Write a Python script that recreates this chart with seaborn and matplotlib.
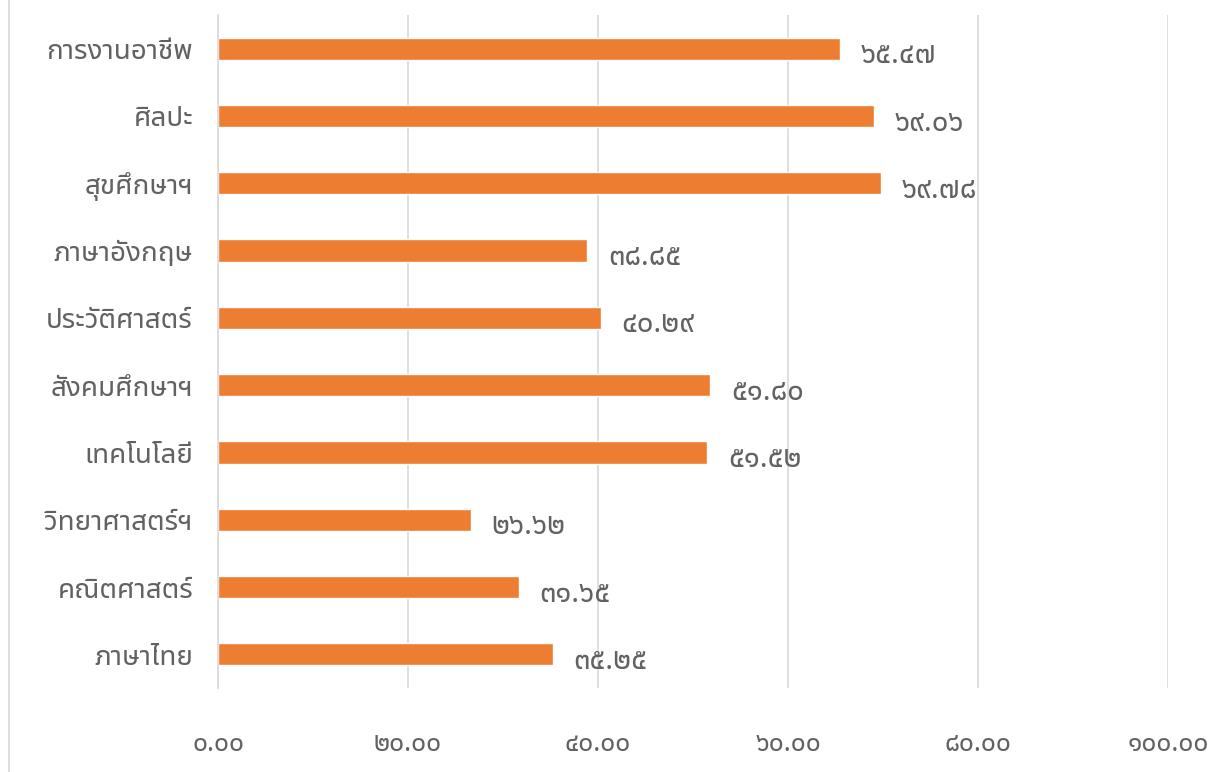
import matplotlib
matplotlib.use('Agg')
import matplotlib.pyplot as plt
from matplotlib.ticker import FuncFormatter
import seaborn as sns
import pandas as pd

# Data
subjects = ['การงานอาชีพ', 'ศิลปะ', 'สุขศึกษาฯ', 'ภาษาอังกฤษ', 'ประวัติศาสตร์',
            'สังคมศึกษาฯ', 'เทคโนโลยี', 'วิทยาศาสตร์ฯ', 'คณิตศาสตร์', 'ภาษาไทย']
scores = [65.47, 69.06, 69.78, 38.85, 40.29, 51.80, 51.52, 26.62, 31.65, 35.25]
x_ticks = [0, 20, 40, 60, 80, 100]

THAI_DIGITS = str.maketrans('0123456789', '๐๑๒๓๔๕๖๗๘๙')


def thai_num(v):
    return f'{v:.2f}'.translate(THAI_DIGITS)


df = pd.DataFrame({'subject': subjects, 'score': scores})

sns.set_style('white')
plt.rcParams['font.family'] = ['Noto Sans Thai UI', 'Noto Sans Thai', 'DejaVu Sans']

text_grey = '#626262'

fig = plt.figure(figsize=(12.28, 7.72), dpi=100)
ax = fig.add_axes([218 / 1228, 1 - 688 / 772, 950 / 1228, 673 / 772])

sns.barplot(data=df, x='score', y='subject', orient='h', color='#ED7D31',
            saturation=1, width=0.33, ax=ax)

for i, v in enumerate(scores):
    ax.annotate(thai_num(v), xy=(v, i), xytext=(15, -10.5), textcoords='offset points',
                va='baseline', ha='left', fontsize=21, color=text_grey)

ax.set_xlim(0, 100)
ax.set_xticks(x_ticks)
ax.xaxis.set_major_formatter(FuncFormatter(lambda v, p: thai_num(v)))
ax.grid(axis='x', color='#D9D9D9', linewidth=1.2)
ax.set_axisbelow(True)
for s in ['top', 'right', 'bottom']:
    ax.spines[s].set_visible(False)
ax.spines['left'].set_color('#D9D9D9')
ax.spines['left'].set_linewidth(1.2)
ax.tick_params(axis='x', length=0, pad=30, labelsize=19, labelcolor=text_grey)
ax.tick_params(axis='y', length=0, pad=18, labelsize=20, labelcolor=text_grey)
ax.set_xlabel('')
ax.set_ylabel('')

# chart frame line on the left edge
fig.add_artist(plt.Line2D([8.5 / 1228, 8.5 / 1228], [0, 1], color='#D9D9D9', linewidth=1.2))

fig.savefig('out.png', dpi=100)
